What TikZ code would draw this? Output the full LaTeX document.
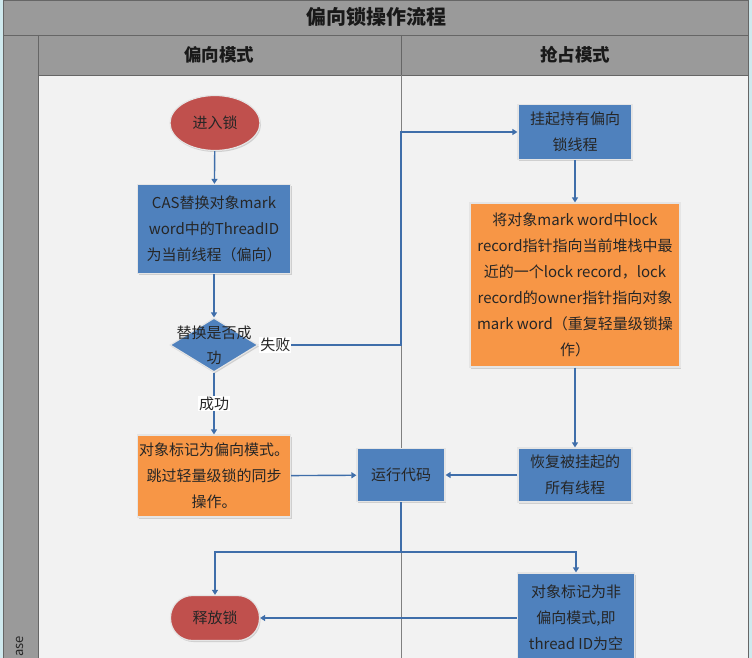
\documentclass[tikz,border=0pt]{standalone}
\usepackage{fontspec}
\setmainfont{Noto Sans CJK SC}
\usetikzlibrary{arrows.meta,shapes.geometric,shadows}
\definecolor{laneblue}{HTML}{4F81BD}
\definecolor{laneorange}{HTML}{F79646}
\definecolor{lanered}{HTML}{C0504D}
\definecolor{linkblue}{HTML}{3F6EAA}
\definecolor{panegray}{HTML}{9A9A9A}
\definecolor{panebg}{HTML}{F2F2F2}
\definecolor{framecyan}{HTML}{CFE9EE}

\begin{document}
\begin{tikzpicture}[x=1pt, y=-1pt, >={Triangle[length=5pt,width=6pt]},
  box/.style={rectangle, draw=white!90!black, line width=1.2pt, align=center, inner sep=0pt, font=\fontsize{15}{26}\selectfont, text=black!85, drop shadow={opacity=0.3, shadow xshift=1pt, shadow yshift=-1.5pt}},
  task/.style={box, fill=laneblue},
  note/.style={box, fill=laneorange},
  term/.style={box, fill=lanered},
  test/.style={diamond, fill=laneblue, draw=white!90!black, line width=1.2pt, inner sep=0pt, minimum width=88pt, minimum height=54pt, drop shadow={opacity=0.3, shadow xshift=1pt, shadow yshift=-1.5pt}},
  lbl/.style={fill=white, inner sep=1pt, font=\fontsize{15}{17}\selectfont, text=black!85},
  head/.style={font=\bfseries\fontsize{17.5}{20}\selectfont, text=black!90},
  edge/.style={->, line width=1.4pt, draw=linkblue}
]
\clip (0,0) rectangle (752,658);
% frame and swimlanes
\fill[framecyan] (0,0) rectangle (752,658);
\fill[panegray] (3,0) rectangle (748,75);
\fill[panegray] (3,0) rectangle (38,658);
\fill[panebg] (38,75) rectangle (748,658);
\draw[black!60, line width=0.8pt] (3,0.5) -- (748,0.5) (3,35) -- (748,35) (38,75) -- (748,75)
  (3,0) -- (3,658) (38,35) -- (38,658) (748,0) -- (748,658) (401,35) -- (401,75);
\draw[black!50, line width=0.8pt] (401,75) -- (401,658);
\node[head, font=\bfseries\fontsize{20}{22}\selectfont] (title) at (376,17) {偏向锁操作流程};
\node[head] (lane1) at (219,55) {偏向模式};
\node[head] (lane2) at (575,55) {抢占模式};
\node[rotate=90, anchor=west, inner sep=0pt, font=\fontsize{13}{15}\selectfont, text=black!85] (phase) at (20,657) {ase};

% nodes
\node[term, ellipse, minimum width=90pt, minimum height=55pt] (enter) at (215,123) {进入锁};
\node[task, minimum width=153pt, minimum height=89pt] (cas) at (214,229) {CAS替换对象mark\\word中的ThreadID\\为当前线程（偏向）};
\node[test, label={[align=center, font=\fontsize{15}{25}\selectfont, text=black!85]center:替换是否成\\功}] (check) at (214,345) {};
\node[note, minimum width=153pt, minimum height=82pt] (biasok) at (214,476) {对象标记为偏向模式。\\跳过轻量级锁的同步\\操作。};
\node[task, minimum width=88pt, minimum height=53pt] (run) at (401,475) {运行代码};
\node[task, minimum width=114pt, minimum height=55pt] (suspend) at (575,132) {挂起持有偏向\\锁线程};
\node[note, minimum width=210pt, minimum height=164pt] (revoke) at (575,285) {将对象mark word中lock\\record指针指向当前堆栈中最\\近的一个lock record，lock\\record的owner指针指向对象\\mark word（重复轻量级锁操\\作）};
\node[task, minimum width=114pt, minimum height=54pt] (resume) at (575,475) {恢复被挂起的\\所有线程};
\node[term, rounded corners=22pt, minimum width=89pt, minimum height=45pt] (release) at (215,618) {释放锁};
\node[task, minimum width=117pt, minimum height=90pt] (clear) at (576,618) {对象标记为非\\偏向模式,即\\thread ID为空};
\coordinate (fork) at (401,552);

% connectors
\draw[edge] (enter) -- (cas);
\draw[edge] (cas) -- (check);
\draw[edge] (check) -- node[lbl] {成功} (biasok);
\draw[edge] (check.east) -- node[lbl, pos=0, anchor=west] {失败} (check.east -| run.north) |- (suspend.west);
\draw[edge] (suspend) -- (revoke);
\draw[edge] (revoke) -- (resume);
\draw[edge] (resume) -- (run);
\draw[edge] (biasok) -- (run);
\draw[edge] (run) -- (fork) -| (release.north);
\draw[edge] (fork) -| (clear.north);
\draw[edge] (clear) -- (release);
\end{tikzpicture}
\end{document}
